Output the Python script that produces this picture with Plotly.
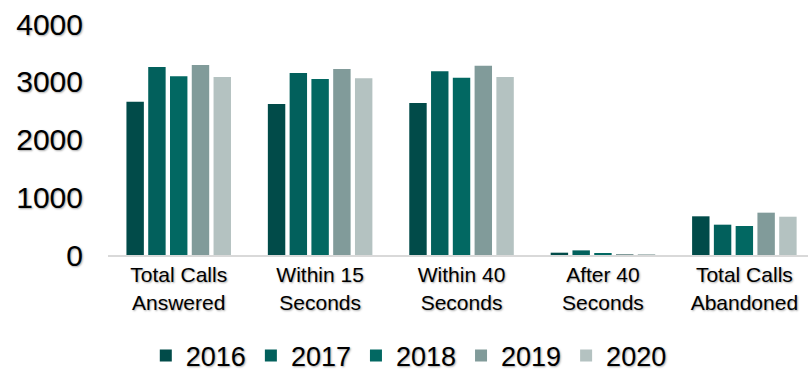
import plotly.graph_objects as go

categories = ["Total Calls<br>Answered", "Within 15<br>Seconds", "Within 40<br>Seconds",
              "After 40<br>Seconds", "Total Calls<br>Abandoned"]
years = ["2016", "2017", "2018", "2019", "2020"]
v2016 = [2654, 2615, 2632, 40, 670]
v2017 = [3255, 3151, 3181, 80, 525]
v2018 = [3094, 3048, 3070, 30, 502]
v2019 = [3290, 3221, 3278, 10, 733]
v2020 = [3082, 3059, 3082, 10, 663]
series = [v2016, v2017, v2018, v2019, v2020]
colors = ["#014b49", "#02605c", "#026862", "#819b9a", "#b4c2c1"]

FONT = "Liberation Sans, Arial, sans-serif"
shadow = "1px 1px 2px rgba(0,0,0,0.35)"

fig = go.Figure()
for y, vals, c in zip(years, series, colors):
    fig.add_trace(go.Bar(name=y, x=categories, y=vals, marker=dict(color=c, line=dict(width=0))))

fig.update_layout(
    width=808, height=371,
    margin=dict(l=108, r=0, t=24, b=116, autoexpand=False),
    paper_bgcolor="white", plot_bgcolor="white",
    barmode="group", bargap=0.23, bargroupgap=0.2,
    font=dict(family=FONT, color="#000000"),
    showlegend=True,
    legend=dict(orientation="h", x=0.054, xref="paper", xanchor="left",
                y=15 / 371, yref="container", yanchor="middle",
                font=dict(size=27, family=FONT, shadow=shadow), itemwidth=30,
                traceorder="normal", bgcolor="rgba(0,0,0,0)"),
    xaxis=dict(range=[-0.5, 4.45], showgrid=False, showline=True, linecolor="#d9d9d9", linewidth=2,
               ticks="", tickfont=dict(size=21, family=FONT, shadow=shadow), automargin=False),
    yaxis=dict(range=[0, 4000], tickvals=[0, 1000, 2000, 3000, 4000], showgrid=False, zeroline=False,
               showline=False, ticks="", ticklabelstandoff=24,
               tickfont=dict(size=30, family=FONT, shadow=shadow), automargin=False),
)
fig.write_html("out.html")
